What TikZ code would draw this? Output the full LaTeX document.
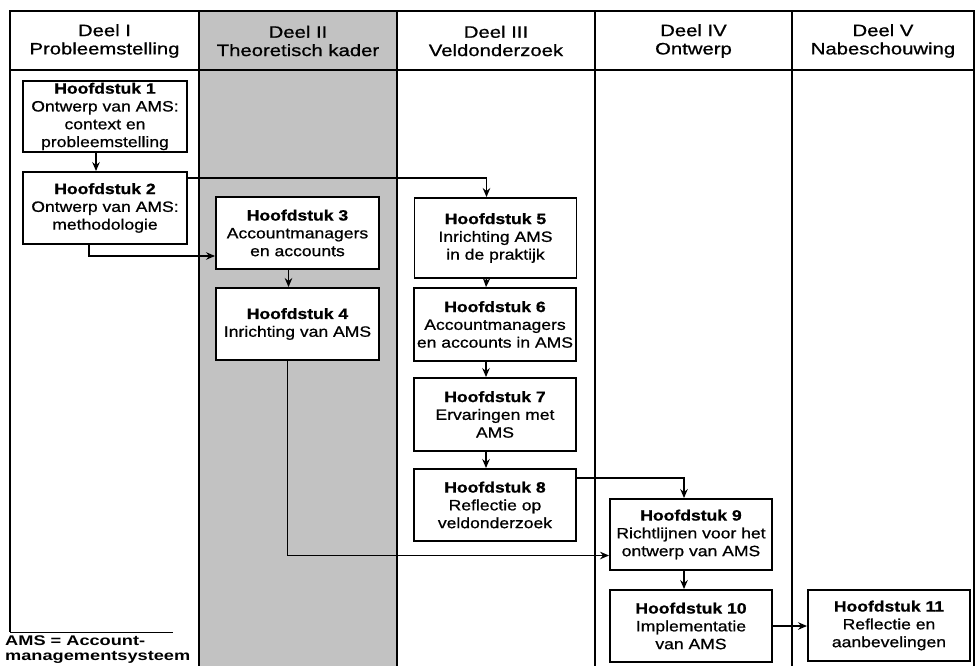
\documentclass[tikz,border=0pt]{standalone}
\usepackage{fontspec}
\setmainfont{Liberation Sans}
\newfontfamily\chapfont[FakeStretch=1.17,FakeBold=0.8]{Liberation Sans}
\newfontfamily\headfont[FakeStretch=1.23,FakeBold=0.8]{Liberation Sans}
\newfontfamily\notefont[FakeStretch=1.3]{Liberation Sans}
\usetikzlibrary{arrows.meta,calc}

\begin{document}
\begin{tikzpicture}[x=1pt,y=-1pt,
  chapter/.style={draw, line width=1.9pt, fill=white, align=center,
    minimum width=162pt, minimum height=72pt, inner sep=0pt,
    font=\chapfont\fontsize{15}{17.8}\selectfont},
  colhead/.style={align=center, inner sep=0pt,
    font=\headfont\fontsize{16.5}{18.3}\selectfont},
  frameline/.style={line width=1.9pt},
  colline/.style={line width=1.5pt},
  flow/.style={line width=1.5pt, -{Stealth[length=9pt,width=7.5pt,inset=3pt]}},
]
\useasboundingbox (0,0) rectangle (975,666);

% shaded part (Deel II)
\fill[black!24] (199,11) rectangle (397,666);

% table grid
\draw[frameline] (10,632) -- (10,11) -- (974,11) -- (974,666);
\draw[frameline] (10,70) -- (974,70);
\foreach \x in {199,397,595,792} \draw[colline] (\x,11) -- (\x,666);

% column headings
\node[colhead] (h1) at (104.5,41) {Deel I\\Probleemstelling};
\node[colhead] (h2) at (298,41) {Deel II\\Theoretisch kader};
\node[colhead] (h3) at (496,41) {Deel III\\Veldonderzoek};
\node[colhead] (h4) at (693.5,41) {Deel IV\\Ontwerp};
\node[colhead] (h5) at (883,41) {Deel V\\Nabeschouwing};

% chapters
\node[chapter, minimum width=164pt, minimum height=71pt] (b1) at (105,116.5)
  {\textbf{Hoofdstuk 1}\\Ontwerp van AMS:\\context en\\probleemstelling};
\node[chapter, minimum width=164pt] (b2) at (105,208)
  {\textbf{Hoofdstuk 2}\\Ontwerp van AMS:\\methodologie};
\node[chapter, minimum width=163pt] (b3) at (297.5,233)
  {\textbf{Hoofdstuk 3}\\Accountmanagers\\en accounts};
\node[chapter, minimum width=163pt] (b4) at (297.5,324)
  {\textbf{Hoofdstuk 4}\\Inrichting van AMS};
\node[chapter, minimum height=80pt] (b5) at (495.5,238)
  {\textbf{Hoofdstuk 5}\\Inrichting AMS\\in de praktijk};
\node[chapter, minimum height=73pt] (b6) at (495,324.5)
  {\textbf{Hoofdstuk 6}\\Accountmanagers\\en accounts in AMS};
\node[chapter, minimum height=73pt] (b7) at (495,414.5)
  {\textbf{Hoofdstuk 7}\\Ervaringen met\\AMS};
\node[chapter] (b8) at (495,505)
  {\textbf{Hoofdstuk 8}\\Reflectie op\\veldonderzoek};
\node[chapter, minimum height=71pt] (b9) at (691,534.5)
  {\textbf{Hoofdstuk 9}\\Richtlijnen voor het\\ontwerp van AMS};
\node[chapter] (b10) at (691,626)
  {\textbf{Hoofdstuk 10}\\Implementatie\\van AMS};
\node[chapter, minimum height=71pt] (b11) at (889,625.5)
  {\textbf{Hoofdstuk 11}\\Reflectie en\\aanbevelingen};

% reading order
\draw[flow] ([xshift=-9pt]b1.south) -- ([xshift=-9pt]b2.north);
\draw[flow] ([xshift=-9pt]b3.south) -- ([xshift=-9pt]b4.north);
\draw[flow] ([xshift=-9pt]b5.south) -- ([xshift=-9pt]b6.north);
\draw[flow] ([xshift=-9pt]b6.south) -- ([xshift=-9pt]b7.north);
\draw[flow] ([xshift=-9pt]b7.south) -- ([xshift=-9pt]b8.north);
\draw[flow] ([xshift=-7pt]b9.south) -- ([xshift=-7pt]b10.north);
\draw[flow] ([yshift=-7pt]b2.north east) -| ([xshift=-9pt]b5.north);
\draw[flow] ([xshift=-16pt]b2.south) |- ([yshift=-23pt]b3.west);
\draw[flow] ([xshift=-10pt]b4.south) |- ([yshift=-21pt]b9.west);
\draw[flow] ([yshift=-10pt]b8.north east) -| ([xshift=-7pt]b9.north);
\draw[flow] (b10.east) -- (b11.west |- b10.east);

% abbreviation note
\draw[line width=1pt] (10,632) -- (173,632);
\node[anchor=north west, inner sep=0pt, align=left,
  font=\notefont\bfseries\fontsize{14}{15}\selectfont] (note) at (5,636)
  {AMS = Account-\\managementsysteem};
\end{tikzpicture}
\end{document}
